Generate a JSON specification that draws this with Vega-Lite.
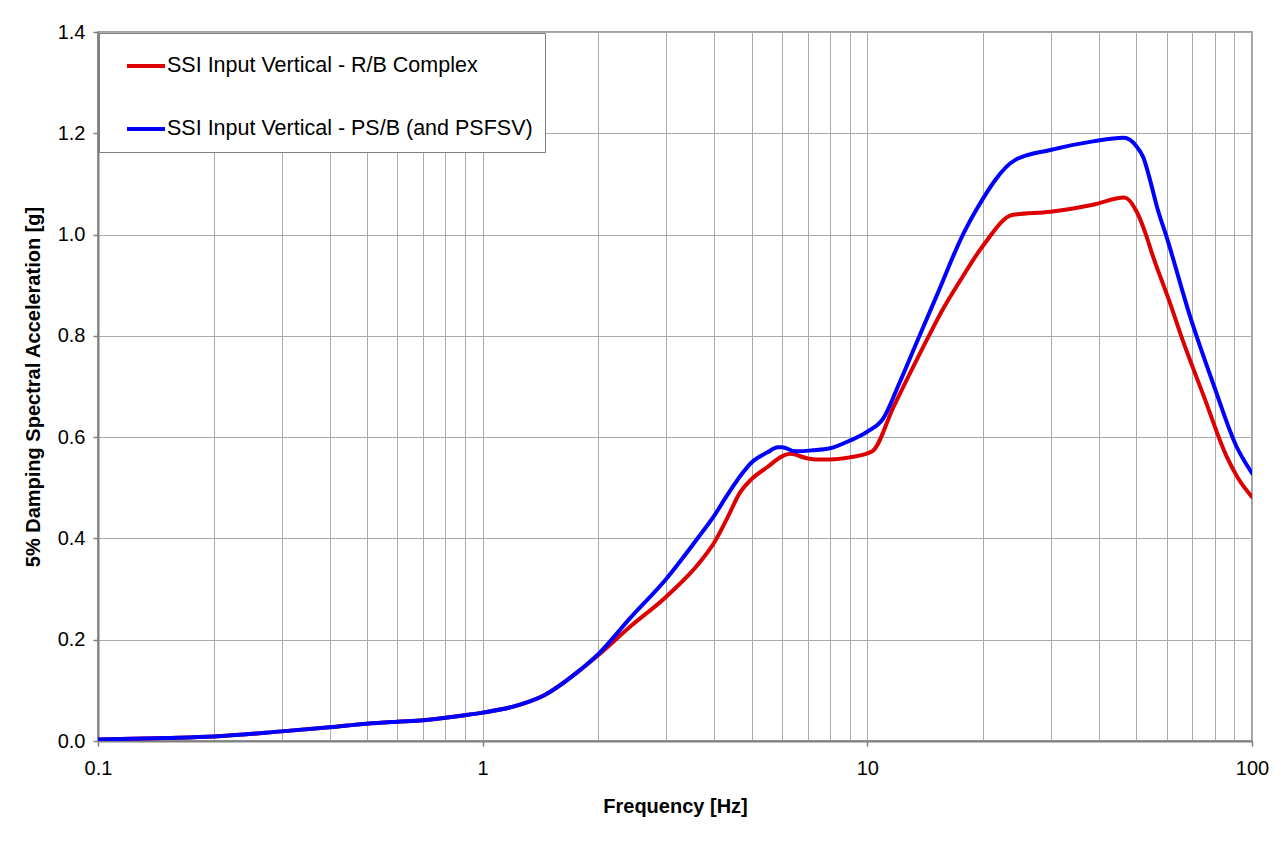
{
  "$schema": "https://vega.github.io/schema/vega-lite/v6.json",
  "width": 1154,
  "height": 709,
  "autosize": {"type": "none"},
  "padding": {"left": 98, "top": 32, "right": 32, "bottom": 103},
  "background": "white",
  "config": {
    "view": {"stroke": "#808080", "strokeWidth": 1.5},
    "font": "Liberation Sans"
  },
  "data": {
    "values": [
      {"f": 0.1, "a": 0.003, "s": "SSI Input Vertical - R/B Complex"},
      {"f": 0.15, "a": 0.006, "s": "SSI Input Vertical - R/B Complex"},
      {"f": 0.2, "a": 0.009, "s": "SSI Input Vertical - R/B Complex"},
      {"f": 0.3, "a": 0.019, "s": "SSI Input Vertical - R/B Complex"},
      {"f": 0.4, "a": 0.027, "s": "SSI Input Vertical - R/B Complex"},
      {"f": 0.5, "a": 0.034, "s": "SSI Input Vertical - R/B Complex"},
      {"f": 0.6, "a": 0.038, "s": "SSI Input Vertical - R/B Complex"},
      {"f": 0.7, "a": 0.041, "s": "SSI Input Vertical - R/B Complex"},
      {"f": 0.8, "a": 0.046, "s": "SSI Input Vertical - R/B Complex"},
      {"f": 0.9, "a": 0.051, "s": "SSI Input Vertical - R/B Complex"},
      {"f": 1.0, "a": 0.056, "s": "SSI Input Vertical - R/B Complex"},
      {"f": 1.2, "a": 0.068, "s": "SSI Input Vertical - R/B Complex"},
      {"f": 1.45, "a": 0.091, "s": "SSI Input Vertical - R/B Complex"},
      {"f": 1.77, "a": 0.137, "s": "SSI Input Vertical - R/B Complex"},
      {"f": 2.0, "a": 0.170, "s": "SSI Input Vertical - R/B Complex"},
      {"f": 2.42, "a": 0.226, "s": "SSI Input Vertical - R/B Complex"},
      {"f": 3.0, "a": 0.285, "s": "SSI Input Vertical - R/B Complex"},
      {"f": 3.66, "a": 0.352, "s": "SSI Input Vertical - R/B Complex"},
      {"f": 4.0, "a": 0.392, "s": "SSI Input Vertical - R/B Complex"},
      {"f": 4.31, "a": 0.438, "s": "SSI Input Vertical - R/B Complex"},
      {"f": 4.67, "a": 0.491, "s": "SSI Input Vertical - R/B Complex"},
      {"f": 5.0, "a": 0.517, "s": "SSI Input Vertical - R/B Complex"},
      {"f": 5.5, "a": 0.541, "s": "SSI Input Vertical - R/B Complex"},
      {"f": 6.0, "a": 0.562, "s": "SSI Input Vertical - R/B Complex"},
      {"f": 6.3, "a": 0.567, "s": "SSI Input Vertical - R/B Complex"},
      {"f": 7.0, "a": 0.558, "s": "SSI Input Vertical - R/B Complex"},
      {"f": 7.4, "a": 0.556, "s": "SSI Input Vertical - R/B Complex"},
      {"f": 8.0, "a": 0.556, "s": "SSI Input Vertical - R/B Complex"},
      {"f": 9.0, "a": 0.560, "s": "SSI Input Vertical - R/B Complex"},
      {"f": 10.3, "a": 0.572, "s": "SSI Input Vertical - R/B Complex"},
      {"f": 11.7, "a": 0.660, "s": "SSI Input Vertical - R/B Complex"},
      {"f": 14.5, "a": 0.802, "s": "SSI Input Vertical - R/B Complex"},
      {"f": 15.6, "a": 0.848, "s": "SSI Input Vertical - R/B Complex"},
      {"f": 17.4, "a": 0.908, "s": "SSI Input Vertical - R/B Complex"},
      {"f": 19.9, "a": 0.976, "s": "SSI Input Vertical - R/B Complex"},
      {"f": 23.9, "a": 1.039, "s": "SSI Input Vertical - R/B Complex"},
      {"f": 29.9, "a": 1.045, "s": "SSI Input Vertical - R/B Complex"},
      {"f": 38.6, "a": 1.059, "s": "SSI Input Vertical - R/B Complex"},
      {"f": 46.6, "a": 1.073, "s": "SSI Input Vertical - R/B Complex"},
      {"f": 50.0, "a": 1.047, "s": "SSI Input Vertical - R/B Complex"},
      {"f": 53.0, "a": 1.000, "s": "SSI Input Vertical - R/B Complex"},
      {"f": 55.0, "a": 0.962, "s": "SSI Input Vertical - R/B Complex"},
      {"f": 61.0, "a": 0.868, "s": "SSI Input Vertical - R/B Complex"},
      {"f": 66.0, "a": 0.792, "s": "SSI Input Vertical - R/B Complex"},
      {"f": 75.0, "a": 0.680, "s": "SSI Input Vertical - R/B Complex"},
      {"f": 86.0, "a": 0.561, "s": "SSI Input Vertical - R/B Complex"},
      {"f": 92.0, "a": 0.519, "s": "SSI Input Vertical - R/B Complex"},
      {"f": 100.0, "a": 0.482, "s": "SSI Input Vertical - R/B Complex"},
      {"f": 0.1, "a": 0.003, "s": "SSI Input Vertical - PS/B (and PSFSV)"},
      {"f": 0.15, "a": 0.006, "s": "SSI Input Vertical - PS/B (and PSFSV)"},
      {"f": 0.2, "a": 0.009, "s": "SSI Input Vertical - PS/B (and PSFSV)"},
      {"f": 0.3, "a": 0.019, "s": "SSI Input Vertical - PS/B (and PSFSV)"},
      {"f": 0.4, "a": 0.027, "s": "SSI Input Vertical - PS/B (and PSFSV)"},
      {"f": 0.5, "a": 0.034, "s": "SSI Input Vertical - PS/B (and PSFSV)"},
      {"f": 0.6, "a": 0.038, "s": "SSI Input Vertical - PS/B (and PSFSV)"},
      {"f": 0.7, "a": 0.041, "s": "SSI Input Vertical - PS/B (and PSFSV)"},
      {"f": 0.8, "a": 0.046, "s": "SSI Input Vertical - PS/B (and PSFSV)"},
      {"f": 0.9, "a": 0.051, "s": "SSI Input Vertical - PS/B (and PSFSV)"},
      {"f": 1.0, "a": 0.056, "s": "SSI Input Vertical - PS/B (and PSFSV)"},
      {"f": 1.2, "a": 0.068, "s": "SSI Input Vertical - PS/B (and PSFSV)"},
      {"f": 1.45, "a": 0.091, "s": "SSI Input Vertical - PS/B (and PSFSV)"},
      {"f": 1.77, "a": 0.137, "s": "SSI Input Vertical - PS/B (and PSFSV)"},
      {"f": 2.0, "a": 0.172, "s": "SSI Input Vertical - PS/B (and PSFSV)"},
      {"f": 2.42, "a": 0.243, "s": "SSI Input Vertical - PS/B (and PSFSV)"},
      {"f": 3.0, "a": 0.320, "s": "SSI Input Vertical - PS/B (and PSFSV)"},
      {"f": 3.66, "a": 0.405, "s": "SSI Input Vertical - PS/B (and PSFSV)"},
      {"f": 4.0, "a": 0.445, "s": "SSI Input Vertical - PS/B (and PSFSV)"},
      {"f": 4.31, "a": 0.484, "s": "SSI Input Vertical - PS/B (and PSFSV)"},
      {"f": 4.76, "a": 0.531, "s": "SSI Input Vertical - PS/B (and PSFSV)"},
      {"f": 5.0, "a": 0.550, "s": "SSI Input Vertical - PS/B (and PSFSV)"},
      {"f": 5.5, "a": 0.570, "s": "SSI Input Vertical - PS/B (and PSFSV)"},
      {"f": 5.85, "a": 0.580, "s": "SSI Input Vertical - PS/B (and PSFSV)"},
      {"f": 6.0, "a": 0.580, "s": "SSI Input Vertical - PS/B (and PSFSV)"},
      {"f": 6.5, "a": 0.572, "s": "SSI Input Vertical - PS/B (and PSFSV)"},
      {"f": 7.2, "a": 0.574, "s": "SSI Input Vertical - PS/B (and PSFSV)"},
      {"f": 8.0, "a": 0.578, "s": "SSI Input Vertical - PS/B (and PSFSV)"},
      {"f": 9.0, "a": 0.593, "s": "SSI Input Vertical - PS/B (and PSFSV)"},
      {"f": 10.0, "a": 0.611, "s": "SSI Input Vertical - PS/B (and PSFSV)"},
      {"f": 10.98, "a": 0.636, "s": "SSI Input Vertical - PS/B (and PSFSV)"},
      {"f": 12.1, "a": 0.706, "s": "SSI Input Vertical - PS/B (and PSFSV)"},
      {"f": 13.4, "a": 0.785, "s": "SSI Input Vertical - PS/B (and PSFSV)"},
      {"f": 15.1, "a": 0.877, "s": "SSI Input Vertical - PS/B (and PSFSV)"},
      {"f": 17.8, "a": 1.003, "s": "SSI Input Vertical - PS/B (and PSFSV)"},
      {"f": 19.2, "a": 1.049, "s": "SSI Input Vertical - PS/B (and PSFSV)"},
      {"f": 24.2, "a": 1.147, "s": "SSI Input Vertical - PS/B (and PSFSV)"},
      {"f": 29.9, "a": 1.167, "s": "SSI Input Vertical - PS/B (and PSFSV)"},
      {"f": 38.6, "a": 1.184, "s": "SSI Input Vertical - PS/B (and PSFSV)"},
      {"f": 46.4, "a": 1.191, "s": "SSI Input Vertical - PS/B (and PSFSV)"},
      {"f": 50.0, "a": 1.175, "s": "SSI Input Vertical - PS/B (and PSFSV)"},
      {"f": 52.2, "a": 1.152, "s": "SSI Input Vertical - PS/B (and PSFSV)"},
      {"f": 54.0, "a": 1.115, "s": "SSI Input Vertical - PS/B (and PSFSV)"},
      {"f": 56.8, "a": 1.051, "s": "SSI Input Vertical - PS/B (and PSFSV)"},
      {"f": 60.0, "a": 0.995, "s": "SSI Input Vertical - PS/B (and PSFSV)"},
      {"f": 68.6, "a": 0.845, "s": "SSI Input Vertical - PS/B (and PSFSV)"},
      {"f": 79.5, "a": 0.703, "s": "SSI Input Vertical - PS/B (and PSFSV)"},
      {"f": 91.2, "a": 0.581, "s": "SSI Input Vertical - PS/B (and PSFSV)"},
      {"f": 100.0, "a": 0.529, "s": "SSI Input Vertical - PS/B (and PSFSV)"}
    ]
  },
  "mark": {"type": "line", "strokeWidth": 4, "interpolate": "monotone", "strokeJoin": "round", "strokeCap": "round", "clip": true},
  "encoding": {
    "x": {
      "field": "f",
      "type": "quantitative",
      "scale": {"type": "log", "domain": [0.1, 100], "nice": false},
      "axis": {
        "title": "Frequency [Hz]",
        "titleFont": "Liberation Sans",
        "titleFontSize": 20,
        "titleFontWeight": "bold",
        "titleColor": "black",
        "titlePadding": 18,
        "values": [0.1, 0.2, 0.3, 0.4, 0.5, 0.6, 0.7, 0.8, 0.9, 1, 2, 3, 4, 5, 6, 7, 8, 9, 10, 20, 30, 40, 50, 60, 70, 80, 90, 100],
        "format": "~g",
        "labelExpr": "indexof(['0.1','1','10','100'], datum.label) >= 0 ? datum.label : ''",
        "labelOverlap": false,
        "labelFont": "Liberation Sans",
        "labelFontSize": 20,
        "labelColor": "black",
        "labelPadding": 12,
        "labelFlush": false,
        "grid": true,
        "gridColor": "#ababab",
        "gridWidth": 1,
        "domainColor": "#808080",
        "domainWidth": 2,
        "tickColor": "#808080",
        "tickWidth": 1.5,
        "tickSize": {"condition": {"test": "indexof([0.1, 1, 10, 100], datum.value) >= 0", "value": 5}, "value": 0}
      }
    },
    "y": {
      "field": "a",
      "type": "quantitative",
      "scale": {"domain": [0, 1.4], "nice": false},
      "axis": {
        "title": "5% Damping Spectral Acceleration [g]",
        "titleFont": "Liberation Sans",
        "titleFontSize": 20,
        "titleFontWeight": "bold",
        "titleColor": "black",
        "titlePadding": 14,
        "values": [0, 0.2, 0.4, 0.6, 0.8, 1.0, 1.2, 1.4],
        "format": ".1f",
        "labelFont": "Liberation Sans",
        "labelFontSize": 20,
        "labelColor": "black",
        "labelPadding": 8,
        "labelFlush": false,
        "grid": true,
        "gridColor": "#ababab",
        "gridWidth": 1,
        "domainColor": "#808080",
        "domainWidth": 2,
        "tickColor": "#808080",
        "tickWidth": 1.5,
        "tickSize": 5
      }
    },
    "color": {
      "field": "s",
      "type": "nominal",
      "sort": ["SSI Input Vertical - R/B Complex", "SSI Input Vertical - PS/B (and PSFSV)"],
      "scale": {"domain": ["SSI Input Vertical - R/B Complex", "SSI Input Vertical - PS/B (and PSFSV)"], "range": ["#DD0000", "#0000FF"]},
      "legend": {
        "title": null,
        "orient": "none",
        "legendX": 1,
        "legendY": 1,
        "fillColor": "white",
        "strokeColor": "#808080",
        "padding": 12,
        "rowPadding": 31,
        "symbolType": "M-1,0L1,0",
        "symbolSize": 1444,
        "symbolStrokeWidth": 4,
        "symbolOffset": 14,
        "labelFont": "Liberation Sans",
        "labelFontSize": 21.5,
        "labelColor": "black",
        "labelOffset": 0,
        "labelLimit": 600
      }
    }
  }
}
